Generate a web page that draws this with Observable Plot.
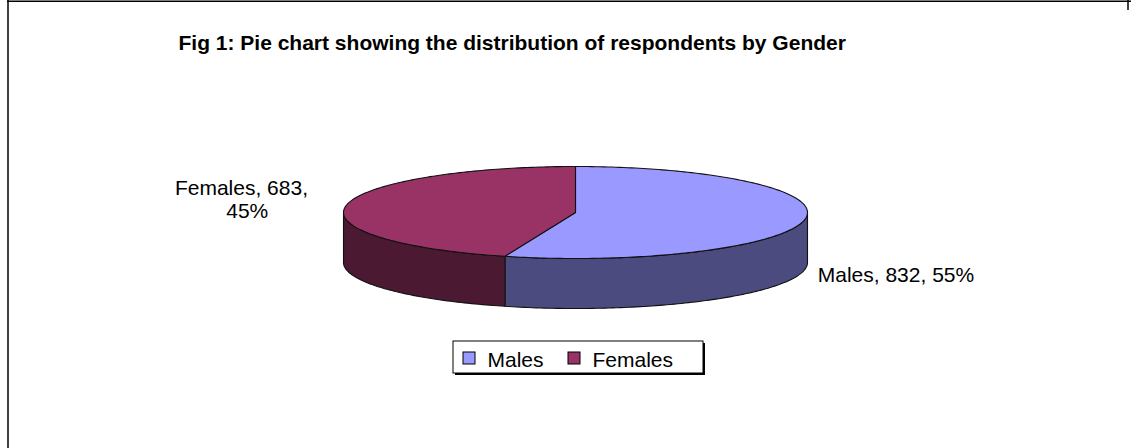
<!DOCTYPE html>
<html>
<head>
<meta charset="utf-8">
<script src="https://cdn.jsdelivr.net/npm/d3@7"></script>
<script src="https://cdn.jsdelivr.net/npm/@observablehq/plot@0.6"></script>
<style>
  html, body { margin: 0; padding: 0; background: #fff; }
  svg { display: block; font-family: "Liberation Sans", Arial, sans-serif; }
</style>
</head>
<body>
<div id="chart"></div>
<script>
// ---- data ----
const categories = ["Males", "Females"];
const counts = [832, 683];
const percentLabels = ["55%", "45%"];
const title = "Fig 1: Pie chart showing the distribution of respondents by Gender";

// ---- styles / layout ----
const topColors = ["#9999FF", "#993366"];
const sideColors = ["#4B4B7F", "#4B1A32"];
const W = 1131, H = 448;
const cx = 575, cy = 212, rx = 232, ry = 46, depth = 50;
const FONT = "Liberation Sans, Arial, sans-serif";

// angles (degrees, clockwise from 12 o'clock) derived from the counts
const total = d3.sum(counts);
let acc = 0;
const slices = categories.map((c, i) => {
  const a0 = acc; acc += counts[i] / total * 360;
  return {name: c, i, a0, a1: acc, count: counts[i], pct: percentLabels[i]};
});

const pt = (a, dy = 0) => {
  const r = a * Math.PI / 180;
  return {x: cx + rx * Math.sin(r), y: cy - ry * Math.cos(r) + dy};
};
function arc(a0, a1, dy = 0) {
  const n = Math.max(2, Math.ceil(Math.abs(a1 - a0)));
  return d3.range(n + 1).map(k => pt(a0 + (a1 - a0) * k / n, dy));
}

// top faces
const tops = slices.map(s => ({s, pts: [{x: cx, y: cy}, ...arc(s.a0, s.a1)]}));
// visible (front) side faces: 90..270 degrees
const sides = slices.map(s => {
  const b0 = Math.max(s.a0, 90), b1 = Math.min(s.a1, 270);
  if (b1 <= b0) return null;
  return {s, pts: [...arc(b0, b1), ...arc(b1, b0, depth)]};
}).filter(Boolean);

// labels anchored at mid-angle of each slice
const labelMarks = [];
slices.forEach(s => {
  const m = pt((s.a0 + s.a1) / 2);
  if (m.x > cx) {
    labelMarks.push(Plot.text([`${s.name}, ${s.count}, ${s.pct}`], {
      x: [m.x + 13], y: [m.y + 62], text: d => d, textAnchor: "start", lineAnchor: "bottom",
      fontSize: 21, fill: "#000", fontFamily: FONT
    }));
  } else {
    labelMarks.push(Plot.text([`${s.name}, ${s.count},\u00A0\u00A0\n${s.pct}`], {
      x: [m.x - 99], y: [m.y + 13], text: d => d, textAnchor: "middle", lineAnchor: "bottom",
      lineHeight: 1.12, fontSize: 21, fill: "#000", fontFamily: FONT
    }));
  }
});

// legend
const legX = [463, 568];
const legend = categories.map((c, i) => ({name: c, x: legX[i], color: topColors[i]}));

const polyMarks = (faces, colors) => faces.map(f =>
  Plot.line(f.pts, {x: "x", y: "y", curve: "linear-closed", fill: colors[f.s.i],
    stroke: "#111", strokeWidth: 1.1, strokeLinejoin: "round"}));

const chart = Plot.plot({
  width: W, height: H, margin: 0,
  x: {domain: [0, W], range: [0, W], axis: null},
  y: {domain: [0, H], range: [0, H], axis: null},
  style: {background: "#fff", fontFamily: FONT},
  marks: [
    // outer frame (partial, as in the reference)
    Plot.ruleX([7.5], {y1: 0, y2: H, stroke: "#000", strokeWidth: 1.5}),
    Plot.ruleY([0.8], {x1: 7, x2: W, stroke: "#000", strokeWidth: 1.5}),
    Plot.ruleX([1127.5], {y1: 0, y2: 10, stroke: "#000", strokeWidth: 1.5}),
    // title
    Plot.text([title], {x: [178], y: [49], text: d => d, textAnchor: "start", lineAnchor: "bottom",
      fontSize: 21, fontWeight: "bold", fill: "#000", fontFamily: FONT}),
    // pie
    ...polyMarks(sides, sideColors),
    ...polyMarks(tops, topColors),
    ...labelMarks,
    // legend box with shadow
    Plot.rect([0], {x1: 455, x2: 705, y1: 343, y2: 375, fill: "#000"}),
    Plot.rect([0], {x1: 453, x2: 703, y1: 341, y2: 373, fill: "#fff", stroke: "#000", strokeWidth: 1}),
    Plot.rect(legend, {x1: "x", x2: d => d.x + 12, y1: 352, y2: 364, fill: "color", stroke: "#000", strokeWidth: 1}),
    Plot.text(legend, {x: d => d.x + 24, y: 366, text: "name", textAnchor: "start", lineAnchor: "bottom",
      fontSize: 21, fill: "#000", fontFamily: FONT})
  ]
});
document.getElementById("chart").appendChild(chart);
</script>
</body>
</html>
